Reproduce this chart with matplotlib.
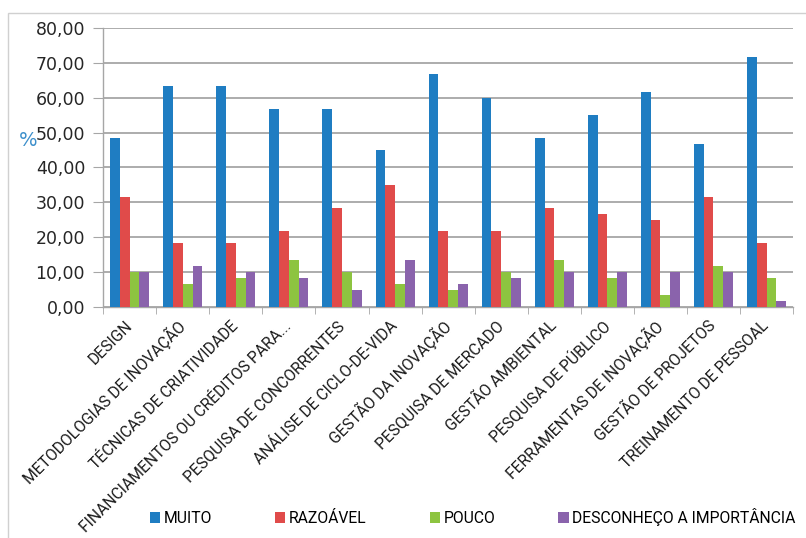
import numpy as np
import matplotlib
matplotlib.use("Agg")
import matplotlib.pyplot as plt
from matplotlib.patches import Rectangle
from matplotlib.ticker import FixedLocator, FuncFormatter

# ---------------- Data ----------------
categorias = [
    "DESIGN",
    "METODOLOGIAS DE INOVAÇÃO",
    "TÉCNICAS DE CRIATIVIDADE",
    "FINANCIAMENTOS OU CRÉDITOS PARA...",
    "PESQUISA DE CONCORRENTES",
    "ANÁLISE DE CICLO-DE-VIDA",
    "GESTÃO DA INOVAÇÃO",
    "PESQUISA DE MERCADO",
    "GESTÃO AMBIENTAL",
    "PESQUISA DE PÚBLICO",
    "FERRAMENTAS DE INOVAÇÃO",
    "GESTÃO DE PROJETOS",
    "TREINAMENTO DE PESSOAL",
]
muito = [48.33, 63.33, 63.33, 56.67, 56.67, 45.00, 66.67, 60.00, 48.33, 55.00, 61.67, 46.67, 71.67]
razoavel = [31.67, 18.33, 18.33, 21.67, 28.33, 35.00, 21.67, 21.67, 28.33, 26.67, 25.00, 31.67, 18.33]
pouco = [10.00, 6.67, 8.33, 13.33, 10.00, 6.67, 5.00, 10.00, 13.33, 8.33, 3.33, 11.67, 8.33]
desconheco = [10.00, 11.67, 10.00, 8.33, 5.00, 13.33, 6.67, 8.33, 10.00, 10.00, 10.00, 10.00, 1.67]

series = [muito, razoavel, pouco, desconheco]
nomes = ["MUITO", "RAZOÁVEL", "POUCO", "DESCONHEÇO A IMPORTÂNCIA"]
cores = ["#1F7DC2", "#E04B4A", "#8DC440", "#8A63AC"]

# ---------------- Figure ----------------
fig = plt.figure(figsize=(8.06, 5.38), dpi=100)
ax = fig.add_axes([0.128, 0.4294, 0.856, 0.5186])

# outer chart border (light grey)
fig.add_artist(Rectangle((8 / 806, -0.05), 1.1, 1 - 13 / 538 + 0.05,
                         transform=fig.transFigure, fill=False,
                         edgecolor="#D0D0D0", linewidth=1.0))

x = np.arange(len(categorias))
largura = 0.184
for i, (vals, nome, cor) in enumerate(zip(series, nomes, cores)):
    ax.bar(x + (i - 1.5) * largura, vals, largura, color=cor, label=nome, zorder=3)

ax.set_xlim(-0.5, len(categorias) - 0.5)
ax.set_ylim(0, 80)
ax.set_yticks(np.arange(0, 81, 10))
ax.yaxis.set_major_formatter(FuncFormatter(lambda v, p: f"{v:.2f}".replace(".", ",")))
ax.grid(axis="y", color="#A6A6A6", linewidth=1.3, zorder=0)

for lado in ["top", "right"]:
    ax.spines[lado].set_visible(False)
for lado in ["left", "bottom"]:
    ax.spines[lado].set_color("#A6A6A6")
    ax.spines[lado].set_linewidth(1.0)

ax.tick_params(axis="y", length=7, color="#A6A6A6", labelsize=12.5, pad=6,
               labelcolor="#262626")
for lbl in ax.get_yticklabels():
    lbl.set_family("DejaVu Sans")

# category boundaries as ticks, labels at group centres
ax.set_xticks(x)
ax.xaxis.set_minor_locator(FixedLocator(np.arange(-0.5, len(categorias), 1.0)))
ax.tick_params(axis="x", which="major", length=0, pad=12)
ax.tick_params(axis="x", which="minor", length=5, color="#A6A6A6")
ax.set_xticklabels(categorias, rotation=45, ha="right", va="center",
                   rotation_mode="anchor", fontsize=11.3, family="Roboto",
                   color="#1A1A1A")

fig.text(28 / 806, 1 - 141 / 538, "%", fontsize=14, color="#3C8FCB",
         ha="center", va="center", family="DejaVu Sans")

fig.legend(loc="center left", bbox_to_anchor=(142 / 806, 1 - 517 / 538), ncol=4,
           frameon=False, handlelength=0.65, handleheight=0.65, handletextpad=0.25,
           columnspacing=4.0, borderpad=0,
           prop={"family": "Roboto", "size": 11.3})

plt.savefig("out.png", dpi=100)
